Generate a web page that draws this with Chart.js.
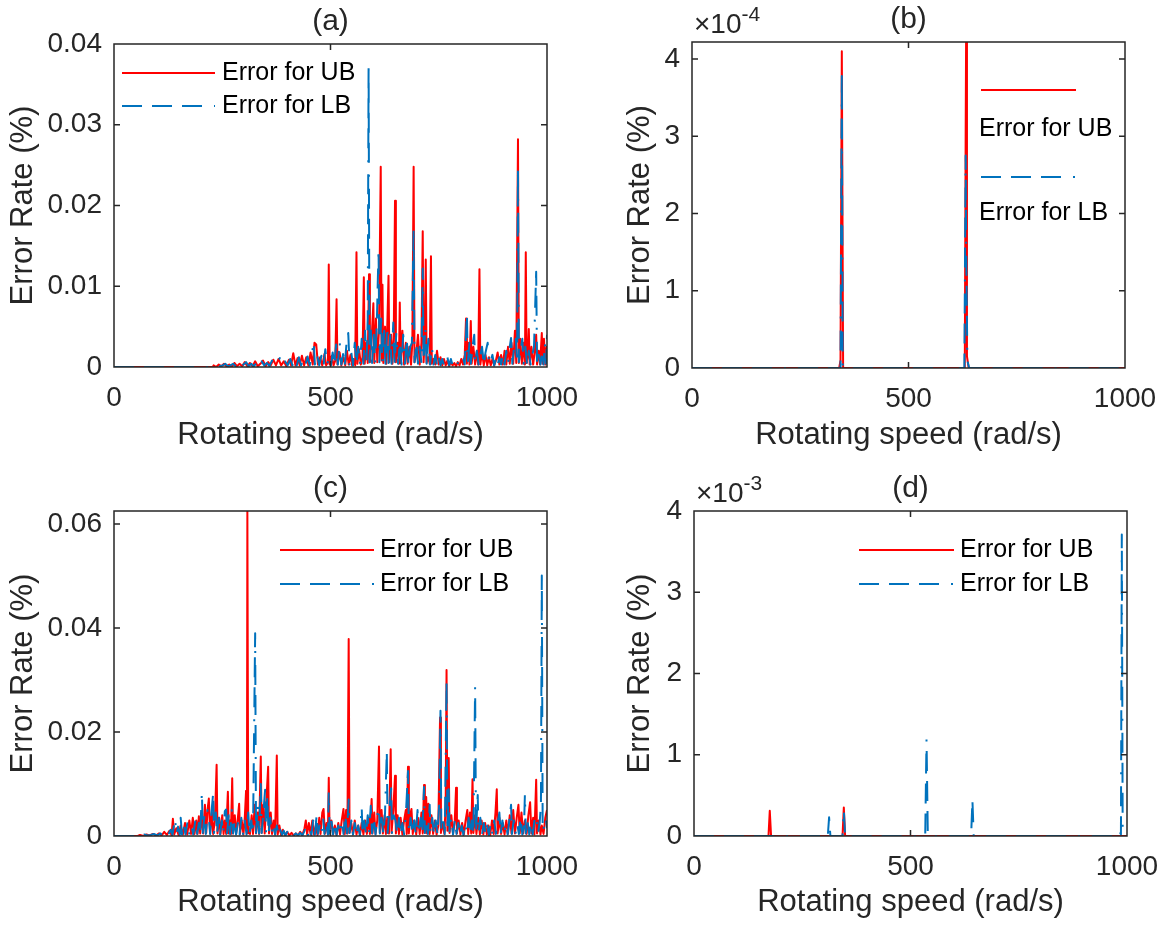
<!DOCTYPE html>
<html><head><meta charset="utf-8">
<script src="https://cdn.jsdelivr.net/npm/chart.js@4.4.1/dist/chart.umd.min.js"></script>
<style>
html,body{margin:0;padding:0;background:#fff;}
body{width:1164px;height:927px;position:relative;overflow:hidden;}
canvas{position:absolute;}
</style></head><body>
<canvas id="ca" width="582" height="460" style="left:0;top:0"></canvas>
<canvas id="cb" width="582" height="460" style="left:582px;top:0"></canvas>
<canvas id="cc" width="582" height="467" style="left:0;top:460px"></canvas>
<canvas id="cd" width="582" height="467" style="left:582px;top:460px"></canvas>
<script>
// ---------- data: [rotating speed (rad/s), error rate (%)] ----------
const aUB = [[0,0],[228,0],[230,.0002],[236,0],[242,.0003],[248,.0001],[254,.0004],[260,.0001],[266,.0003],[272,0],[278,.0005],[284,.0001],[290,.0004],[296,.0001],[302,.0006],[308,.0001],[314,.0005],[320,.0001],[326,.0007],[332,.0001],[338,.0004],[344,.0008],[350,.0001],[356,.0006],[362,.0002],[368,.0009],[374,.0002],[380,.0010],[386,.0002],[392,.0007],[398,.0001],[404,.0009],[409,.0002],[414,.0017],[419,.0002],[424,.0011],[429,.0002],[434,.0014],[439,.0002],[444,.0012],[449,.0002],[454,.0018],[459,.0003],[463,.0030],[467,.0028],[471,.0003],[476,.0012],[481,.0002],[486,.0016],[490,.0002],[494,.0006],[496,.0127],[498,.0003],[503,.0014],[507,.0002],[511,.0008],[514,.0084],[516,.0003],[521,.0018],[525,.0002],[530,.0012],[534,.0002],[538,.0020],[542,.0003],[546,.0015],[550,.0002],[554,.0009],[557,.0002],[560,.0142],[562,.0004],[566,.0022],[570,.0003],[574,.0012],[577,.0111],[579,.0004],[583,.0030],[586,.0005],[589,.0115],[591,.0006],[595,.0035],[599,.0079],[601,.0005],[605,.0060],[608,.0006],[612,.0046],[616,.0248],[618,.0008],[620,.0102],[622,.0005],[626,.0050],[629,.0004],[634,.0113],[636,.0006],[640,.0040],[643,.0004],[646,.0035],[649,.0206],[651,.0006],[655,.0030],[658,.0004],[660,.0080],[662,.0005],[666,.0045],[670,.0003],[674,.0030],[678,.0004],[682,.0025],[686,.0003],[689,.0030],[692,.0248],[694,.0006],[698,.0015],[702,.0040],[706,.0003],[710,.0030],[713,.0168],[715,.0006],[718,.0040],[720,.0133],[722,.0005],[726,.0012],[729,.0004],[732,.0137],[734,.0004],[738,.0010],[742,.0003],[746,.0020],[750,.0003],[754,.0012],[758,.0002],[762,.0010],[766,.0002],[770,.0008],[774,.0001],[778,.0006],[782,.0002],[786,.0005],[790,.0001],[794,.0006],[798,.0002],[802,.0010],[806,.0003],[810,.0015],[813,.0060],[815,.0004],[818,.0030],[821,.0003],[824,.0057],[826,.0004],[830,.0025],[834,.0003],[838,.0020],[841,.0003],[844,.0121],[846,.0003],[850,.0018],[854,.0002],[858,.0015],[862,.0002],[866,.0012],[870,.0002],[874,.0010],[878,.0002],[882,.0008],[886,.0018],[890,.0003],[894,.0015],[898,.0003],[902,.0020],[906,.0003],[910,.0025],[914,.0004],[918,.0030],[922,.0004],[926,.0045],[929,.0005],[933,.0282],[935,.0005],[938,.0035],[942,.0004],[946,.0030],[949,.0003],[951,.0142],[953,.0005],[956,.0015],[958,.0047],[960,.0003],[964,.0025],[968,.0003],[972,.0020],[975,.0040],[977,.0003],[981,.0020],[984,.0003],[988,.0042],[990,.0004],[993,.0035],[996,.0003],[999,.0025],[1000,.0020]];
const aLB = [[0,0],[228,0],[233,.0001],[239,.0003],[245,.0001],[251,.0002],[257,.0004],[263,.0001],[269,.0002],[275,.0004],[281,.0001],[287,.0005],[293,.0001],[299,.0003],[305,.0006],[311,.0001],[317,.0004],[323,.0001],[329,.0005],[335,.0001],[341,.0007],[347,.0002],[353,.0005],[359,.0001],[365,.0008],[371,.0002],[377,.0006],[383,.0011],[389,.0002],[395,.0007],[401,.0002],[407,.0010],[412,.0002],[417,.0009],[422,.0002],[427,.0012],[432,.0002],[437,.0008],[442,.0002],[447,.0013],[452,.0002],[457,.0015],[461,.0032],[464,.0003],[469,.0015],[474,.0002],[479,.0014],[484,.0002],[488,.0022],[492,.0003],[497,.0012],[501,.0002],[505,.0018],[509,.0003],[513,.0028],[517,.0003],[521,.0032],[525,.0003],[529,.0016],[533,.0002],[537,.0030],[541,.0042],[544,.0003],[548,.0018],[552,.0002],[556,.0030],[560,.0004],[564,.0025],[568,.0003],[572,.0035],[576,.0004],[580,.0045],[583,.0004],[586,.0060],[588,.0377],[590,.0006],[593,.0050],[596,.0005],[600,.0040],[603,.0004],[607,.0055],[611,.0147],[613,.0006],[617,.0060],[620,.0005],[624,.0045],[627,.0004],[631,.0050],[634,.0005],[638,.0040],[641,.0004],[645,.0055],[648,.0005],[652,.0042],[656,.0004],[660,.0030],[664,.0003],[668,.0040],[672,.0004],[676,.0035],[680,.0003],[684,.0025],[688,.0030],[692,.0173],[694,.0006],[698,.0030],[702,.0004],[706,.0025],[710,.0005],[713,.0122],[715,.0008],[719,.0050],[722,.0004],[726,.0035],[730,.0003],[734,.0025],[738,.0003],[742,.0015],[746,.0002],[750,.0012],[754,.0002],[758,.0010],[762,.0002],[766,.0008],[770,.0012],[774,.0002],[778,.0010],[782,.0002],[786,.0006],[790,.0001],[794,.0005],[798,.0002],[802,.0008],[806,.0012],[810,.0003],[815,.0065],[817,.0005],[821,.0030],[824,.0004],[828,.0025],[832,.0040],[834,.0004],[838,.0020],[842,.0003],[846,.0015],[850,.0025],[854,.0003],[858,.0018],[863,.0030],[866,.0003],[870,.0008],[874,.0015],[878,.0002],[882,.0010],[886,.0002],[890,.0012],[894,.0003],[898,.0015],[902,.0003],[906,.0020],[910,.0004],[914,.0025],[917,.0036],[920,.0004],[924,.0025],[928,.0035],[931,.0005],[933,.0242],[935,.0006],[939,.0020],[943,.0035],[946,.0004],[950,.0025],[954,.0003],[958,.0020],[962,.0003],[966,.0015],[970,.0025],[975,.0118],[977,.0004],[981,.0015],[985,.0003],[989,.0020],[992,.0003],[995,.0030],[998,.0004],[1000,.0040]];

const bUB = [[0,0],[340,0],[343,.00001],[346,.000410],[349,0],[630,0],[632,.000300],[633,.000422],[635,.000015],[639,0],[1000,0]];
const bLB = [[0,0],[343,0],[346,.000378],[348,.000005],[350,0],[629,0],[632,.000275],[633,.000165],[636,.00001],[640,0],[1000,0]];

const cUB = [[0,0],[55,0],[60,.0002],[68,0],[75,.0003],[82,.0001],[90,.0004],[97,.0001],[104,.0005],[110,.0001],[116,.0008],[122,.0002],[128,.0010],[133,.0002],[136,.0033],[139,.0003],[144,.0015],[149,.0002],[154,.0020],[159,.0003],[164,.0025],[169,.0003],[174,.0030],[178,.0004],[182,.0035],[186,.0004],[190,.0030],[193,.0004],[196,.0038],[199,.0005],[203,.0040],[206,.0005],[210,.0060],[213,.0006],[216,.0050],[219,.0072],[222,.0005],[226,.0045],[229,.0004],[233,.0030],[237,.0137],[239,.0005],[243,.0035],[246,.0004],[250,.0040],[253,.0004],[256,.0030],[259,.0004],[263,.0085],[265,.0005],[268,.0030],[270,.0004],[273,.0111],[275,.0005],[279,.0040],[282,.0004],[285,.0025],[289,.0062],[291,.0004],[295,.0030],[299,.0003],[302,.0035],[305,.0087],[307,.0005],[308,.0625],[310,.0006],[314,.0004],[318,.0040],[321,.0004],[325,.0060],[328,.0005],[332,.0045],[335,.0004],[339,.0153],[341,.0006],[345,.0060],[348,.0005],[352,.0070],[356,.0133],[358,.0005],[362,.0045],[365,.0004],[369,.0030],[372,.0003],[376,.0155],[378,.0003],[382,.0020],[386,.0002],[390,.0012],[395,.0002],[400,.0008],[405,.0001],[410,.0006],[415,.0001],[420,.0005],[425,.0001],[430,.0008],[435,.0002],[440,.0015],[443,.0030],[446,.0003],[450,.0025],[454,.0003],[458,.0030],[462,.0003],[466,.0020],[470,.0002],[474,.0035],[477,.0004],[481,.0045],[484,.0052],[487,.0004],[491,.0025],[494,.0003],[496,.0112],[498,.0005],[502,.0030],[506,.0003],[510,.0020],[514,.0002],[518,.0025],[522,.0003],[526,.0030],[530,.0052],[533,.0004],[536,.0050],[539,.0005],[542,.0379],[544,.0006],[548,.0025],[552,.0003],[556,.0030],[560,.0003],[564,.0020],[568,.0002],[572,.0025],[576,.0003],[580,.0030],[584,.0004],[588,.0035],[591,.0004],[595,.0071],[597,.0005],[601,.0045],[604,.0004],[608,.0030],[612,.0172],[614,.0006],[618,.0050],[621,.0005],[625,.0040],[628,.0004],[631,.0035],[635,.0005],[639,.0167],[641,.0006],[645,.0050],[649,.0116],[651,.0005],[655,.0040],[658,.0004],[662,.0035],[666,.0003],[670,.0030],[674,.0050],[676,.0004],[679,.0133],[681,.0005],[684,.0040],[687,.0052],[690,.0004],[694,.0030],[698,.0003],[702,.0035],[706,.0004],[710,.0045],[713,.0005],[716,.0098],[718,.0006],[721,.0075],[723,.0005],[726,.0062],[729,.0004],[733,.0040],[737,.0004],[741,.0030],[745,.0003],[749,.0020],[753,.0228],[755,.0006],[759,.0025],[763,.0004],[766,.0060],[768,.0319],[770,.0010],[773,.0150],[775,.0006],[779,.0040],[783,.0004],[787,.0030],[790,.0093],[792,.0005],[796,.0030],[800,.0003],[804,.0025],[808,.0003],[812,.0030],[816,.0050],[818,.0004],[822,.0045],[825,.0005],[828,.0109],[830,.0006],[834,.0040],[837,.0004],[841,.0035],[845,.0003],[849,.0030],[853,.0003],[857,.0025],[861,.0003],[865,.0020],[869,.0002],[873,.0030],[877,.0004],[881,.0045],[884,.0090],[886,.0005],[890,.0035],[894,.0004],[898,.0025],[902,.0003],[906,.0030],[910,.0004],[914,.0040],[918,.0005],[922,.0050],[926,.0005],[930,.0035],[934,.0060],[937,.0005],[941,.0045],[945,.0005],[949,.0030],[953,.0004],[957,.0040],[961,.0065],[964,.0005],[968,.0035],[971,.0003],[975,.0108],[977,.0005],[981,.0030],[985,.0003],[988,.0020],[992,.0004],[996,.0035],[1000,.0050]];
const cLB = [[0,0],[58,0],[63,.0001],[70,.0003],[78,.0001],[85,.0002],[92,.0004],[100,.0001],[107,.0005],[113,.0001],[119,.0007],[125,.0002],[131,.0012],[135,.0002],[141,.0034],[144,.0003],[148,.0018],[152,.0002],[154,.0035],[157,.0003],[161,.0022],[165,.0003],[170,.0028],[174,.0003],[179,.0020],[183,.0003],[188,.0030],[192,.0004],[196,.0025],[199,.0004],[203,.0085],[205,.0006],[209,.0040],[212,.0004],[216,.0050],[219,.0035],[222,.0004],[225,.0045],[229,.0082],[231,.0006],[235,.0045],[238,.0004],[242,.0035],[245,.0003],[249,.0030],[252,.0004],[256,.0048],[259,.0051],[261,.0005],[265,.0040],[268,.0004],[272,.0050],[275,.0005],[279,.0030],[282,.0003],[286,.0025],[290,.0003],[294,.0035],[298,.0004],[302,.0030],[306,.0003],[310,.0045],[313,.0004],[317,.0030],[321,.0004],[326,.0390],[328,.0006],[332,.0060],[335,.0005],[339,.0100],[341,.0006],[345,.0045],[349,.0089],[351,.0006],[354,.0075],[357,.0005],[361,.0035],[364,.0004],[368,.0025],[372,.0003],[376,.0020],[380,.0002],[384,.0012],[388,.0002],[392,.0010],[396,.0001],[400,.0008],[405,.0001],[410,.0006],[415,.0001],[420,.0005],[425,.0001],[430,.0006],[435,.0001],[440,.0010],[444,.0020],[448,.0002],[452,.0018],[456,.0002],[460,.0030],[464,.0003],[468,.0040],[471,.0004],[475,.0020],[479,.0003],[483,.0035],[486,.0004],[490,.0025],[494,.0003],[496,.0085],[498,.0005],[502,.0030],[506,.0003],[510,.0025],[514,.0002],[518,.0020],[522,.0003],[526,.0030],[530,.0004],[534,.0040],[538,.0005],[542,.0070],[544,.0006],[548,.0030],[552,.0003],[556,.0025],[560,.0002],[564,.0020],[568,.0002],[572,.0056],[574,.0004],[578,.0030],[582,.0003],[586,.0040],[589,.0004],[593,.0058],[596,.0005],[600,.0035],[604,.0003],[608,.0040],[612,.0055],[614,.0005],[618,.0035],[622,.0004],[626,.0045],[630,.0162],[632,.0006],[636,.0050],[640,.0092],[642,.0006],[646,.0040],[650,.0030],[654,.0004],[658,.0035],[662,.0003],[666,.0025],[670,.0003],[674,.0040],[679,.0125],[681,.0006],[685,.0035],[689,.0004],[693,.0030],[697,.0003],[701,.0050],[704,.0004],[708,.0035],[712,.0005],[716,.0094],[718,.0006],[721,.0030],[725,.0004],[729,.0060],[731,.0005],[735,.0035],[739,.0003],[743,.0030],[747,.0004],[751,.0060],[754,.0241],[756,.0008],[760,.0040],[764,.0004],[768,.0296],[770,.0010],[773,.0090],[775,.0006],[779,.0035],[783,.0003],[787,.0030],[791,.0004],[795,.0025],[799,.0003],[803,.0020],[807,.0002],[811,.0025],[815,.0003],[819,.0035],[822,.0004],[826,.0030],[830,.0004],[834,.0287],[836,.0008],[840,.0079],[842,.0005],[846,.0035],[850,.0003],[854,.0025],[858,.0003],[862,.0020],[866,.0002],[870,.0025],[874,.0003],[878,.0030],[882,.0004],[886,.0025],[890,.0045],[893,.0004],[897,.0030],[901,.0003],[905,.0025],[909,.0003],[913,.0030],[917,.0060],[919,.0004],[923,.0030],[927,.0003],[931,.0025],[935,.0004],[939,.0035],[943,.0003],[947,.0020],[949,.0081],[951,.0005],[955,.0030],[959,.0003],[963,.0025],[967,.0003],[971,.0030],[975,.0040],[979,.0004],[983,.0025],[986,.0060],[988,.0501],[990,.0008],[994,.0020],[997,.0035],[1000,.0015]];

const dUB = [[0,0],[172,0],[175,.00031],[178,0],[343,0],[346,.00035],[349,0],[1000,0]];
const dLB = [[0,0],[309,0],[312,.00023],[315,0],[343,0],[346,.00032],[349,0],[534,0],[537,.00119],[540,0],[640,0],[643,.00044],[646,0],[980,0],[984,.00004],[986,.00002],[988,.00371],[990,.0001],[993,0],[1000,0]];

// ---------- ticks ----------
const xTicks = [0, 500, 1000];
const xTickLabels = ['0', '500', '1000'];
const aYTicks = [0, .01, .02, .03, .04];
const aYLabels = ['0', '0.01', '0.02', '0.03', '0.04'];
const bYTicks = [0, 1e-4, 2e-4, 3e-4, 4e-4];
const bYLabels = ['0', '1', '2', '3', '4'];
const cYTicks = [0, .02, .04, .06];
const cYLabels = ['0', '0.02', '0.04', '0.06'];
const dYTicks = [0, 1e-3, 2e-3, 3e-3, 4e-3];
const dYLabels = ['0', '1', '2', '3', '4'];

const seriesLabels = ['Error for UB', 'Error for LB'];
const panelTitles = ['(a)', '(b)', '(c)', '(d)'];
const xTitle = 'Rotating speed (rad/s)';
const yTitle = 'Error Rate (%)';

// ---------- styling ----------
const RED = '#FF0000', BLUE = '#0072BD', INK = '#262626';
const FONT = '"Liberation Sans", Arial, Helvetica, sans-serif';
const LB_DASH = [20, 10, 20, 10, 20, 12, 2, 12];

const frame = {
  id: 'frame',
  afterDraw(chart, args, o) {
    const {ctx, chartArea: a, scales} = chart;
    ctx.save();
    ctx.setLineDash([]);
    ctx.strokeStyle = INK; ctx.lineWidth = 1.5;
    ctx.strokeRect(a.left, a.top, a.right - a.left, a.bottom - a.top);
    const tl = 6;
    ctx.beginPath();
    scales.x.ticks.forEach(t => {
      const px = scales.x.getPixelForValue(t.value);
      if (px <= a.left + 1 || px >= a.right - 1) return;
      ctx.moveTo(px, a.bottom); ctx.lineTo(px, a.bottom - tl);
      ctx.moveTo(px, a.top); ctx.lineTo(px, a.top + tl);
    });
    scales.y.ticks.forEach(t => {
      const py = scales.y.getPixelForValue(t.value);
      if (py <= a.top + 1 || py >= a.bottom - 1) return;
      ctx.moveTo(a.left, py); ctx.lineTo(a.left + tl, py);
      ctx.moveTo(a.right, py); ctx.lineTo(a.right - tl, py);
    });
    ctx.stroke();
    // panel title
    ctx.fillStyle = INK;
    ctx.font = '30px ' + FONT;
    ctx.textAlign = 'center'; ctx.textBaseline = 'alphabetic';
    ctx.fillText(o.title, (a.left + a.right) / 2, a.top - 14);
    // exponent
    if (o.exponent) {
      ctx.textAlign = 'left';
      ctx.font = '28px ' + FONT;
      const x0 = a.left + 2, y0 = a.top - 9;
      ctx.fillText('\u00d710', x0, y0);
      const w = ctx.measureText('\u00d710').width;
      ctx.font = '21px ' + FONT;
      ctx.fillText(o.exponent, x0 + w, y0 - 12);
    }
    // legend
    chart.data.datasets.forEach((ds, i) => {
      const it = o.legend[i];
      ctx.strokeStyle = ds.borderColor; ctx.lineWidth = ds.borderWidth;
      ctx.setLineDash(ds.borderDash || []);
      ctx.beginPath(); ctx.moveTo(it.x0, it.ly); ctx.lineTo(it.x1, it.ly); ctx.stroke();
      ctx.setLineDash([]);
      ctx.fillStyle = '#000';
      ctx.font = '25px ' + FONT;
      ctx.textAlign = 'left'; ctx.textBaseline = 'middle';
      ctx.fillText(ds.label, it.tx, it.ty);
    });
    ctx.restore();
  }
};

function toXY(pairs) { return pairs.map(p => ({x: p[0], y: p[1]})); }

function build(id, ub, lb, cfg) {
  new Chart(document.getElementById(id), {
    type: 'line',
    data: {
      datasets: [
        {label: seriesLabels[0], data: toXY(ub), borderColor: RED, borderWidth: 2, pointRadius: 0, order: 2, borderDash: [], tension: 0, borderJoinStyle: 'round'},
        {label: seriesLabels[1], data: toXY(lb), borderColor: BLUE, borderWidth: 2, pointRadius: 0, order: 1, borderDash: LB_DASH, tension: 0, borderJoinStyle: 'round'}
      ]
    },
    options: {
      responsive: false, animation: false, devicePixelRatio: 1,
      layout: {padding: {top: cfg.padTop, right: cfg.padRight, left: 0, bottom: 0}},
      plugins: {legend: {display: false}, tooltip: {enabled: false},
        frame: {title: cfg.title, exponent: cfg.exponent, legend: cfg.legend}},
      scales: {
        x: {
          type: 'linear', min: 0, max: 1000,
          grid: {display: false, drawTicks: false}, border: {display: false},
          afterBuildTicks: s => { s.ticks = xTicks.map(v => ({value: v})); },
          afterFit: s => { s.height = cfg.xH; s.paddingLeft = 0; s.paddingRight = 0; },
          ticks: {color: INK, font: {family: FONT, size: 28}, padding: 14, maxRotation: 0, autoSkip: false,
            callback: (v, i) => xTickLabels[i]},
          title: {display: true, text: xTitle, color: INK, font: {family: FONT, size: 31}, padding: {top: 0, bottom: 6}}
        },
        y: {
          type: 'linear', min: 0, max: cfg.yMax,
          grid: {display: false, drawTicks: false}, border: {display: false},
          afterBuildTicks: s => { s.ticks = cfg.yTicks.map(v => ({value: v})); },
          afterFit: s => { s.width = cfg.yW; s.paddingTop = 0; s.paddingBottom = 0; },
          ticks: {color: INK, font: {family: FONT, size: 28}, padding: 12, autoSkip: false,
            callback: (v, i) => cfg.yLabels[i]},
          title: {display: true, text: yTitle, color: INK, font: {family: FONT, size: 31}, padding: {top: cfg.yTitlePad, bottom: 0}}
        }
      }
    },
    plugins: [frame]
  });
}

build('ca', aUB, aLB, {title: panelTitles[0], padTop: 44, padRight: 35, xH: 93, yW: 114, yMax: .04,
  yTicks: aYTicks, yLabels: aYLabels, yTitlePad: 5, exponent: null,
  legend: [{x0: 122, x1: 215, ly: 73, tx: 222, ty: 73}, {x0: 122, x1: 215, ly: 106, tx: 222, ty: 106}]});
build('cb', bUB, bLB, {title: panelTitles[1], padTop: 42, padRight: 39, xH: 92, yW: 110, yMax: .000422,
  yTicks: bYTicks, yLabels: bYLabels, yTitlePad: 40, exponent: '-4',
  legend: [{x0: 399, x1: 494, ly: 90, tx: 397, ty: 129}, {x0: 399, x1: 494, ly: 177, tx: 397, ty: 213}]});
build('cc', cUB, cLB, {title: panelTitles[2], padTop: 51, padRight: 35, xH: 91, yW: 114, yMax: .0625,
  yTicks: cYTicks, yLabels: cYLabels, yTitlePad: 5, exponent: null,
  legend: [{x0: 280, x1: 374, ly: 90, tx: 380, ty: 90}, {x0: 280, x1: 374, ly: 124, tx: 380, ty: 124}]});
build('cd', dUB, dLB, {title: panelTitles[3], padTop: 51, padRight: 37, xH: 91, yW: 112, yMax: .004,
  yTicks: dYTicks, yLabels: dYLabels, yTitlePad: 40, exponent: '-3',
  legend: [{x0: 277, x1: 372, ly: 90, tx: 378, ty: 90}, {x0: 277, x1: 372, ly: 124, tx: 378, ty: 124}]});
</script>
</body></html>
